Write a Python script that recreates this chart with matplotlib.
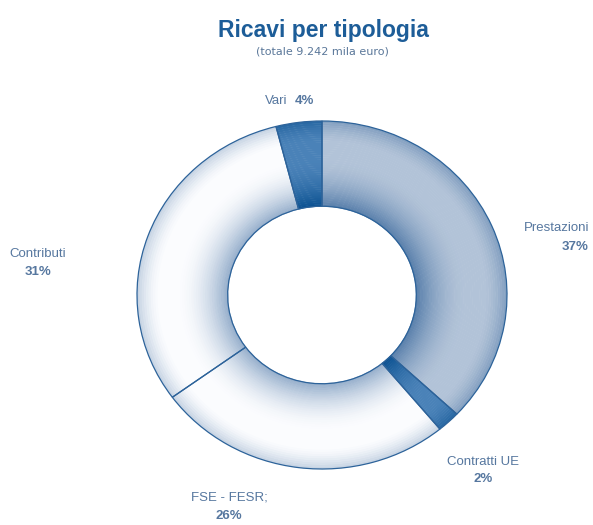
import matplotlib
matplotlib.use("Agg")
import matplotlib.pyplot as plt
import numpy as np
from matplotlib.colors import to_rgb

plt.rcParams['font.family'] = ['Liberation Sans', 'DejaVu Sans']

# Data
categories = ["Prestazioni", "Contratti UE", "FSE - FESR;", "Contributi", "Vari"]
values = [37, 2, 26, 31, 4]
pct_labels = ["37%", "2%", "26%", "31%", "4%"]
title = "Ricavi per tipologia"
subtitle = "(totale 9.242 mila euro)"

# Styling (light / dark shading colour per slice)
light_cols = ["#b2c3d8", "#4a82b8", "#fbfcfe", "#fbfcfe", "#4a82b8"]
dark_cols = ["#587fab", "#0b5191", "#95aecb", "#95aecb", "#0b5191"]
edge_col = "#2d639a"
label_col = "#56779f"

W, H = 593, 525
fig = plt.figure(figsize=(W / 100, H / 100), dpi=100)

cx, cy = 322, 295
rx, ry = 185, 174
ax = fig.add_axes([(cx - rx) / W, 1 - (cy + ry) / H, 2 * rx / W, 2 * ry / H])

inner = 0.51
N = 40
lc = [np.array(to_rgb(c)) for c in light_cols]
dc = [np.array(to_rgb(c)) for c in dark_cols]
for i in range(N):
    r_out = 1 - i * (1 - inner) / N
    t = (i + 0.5) / N  # 0 outer, 1 inner
    f = max((1 - t / 0.25), 0) ** 1.6 * 0.55 + max((t - 0.45) / 0.55, 0) ** 1.8
    f = min(f, 1.0)
    cols = [tuple(l + (d - l) * f) for l, d in zip(lc, dc)]
    ax.pie(values, colors=cols, startangle=90, counterclock=False, radius=r_out,
           wedgeprops=dict(width=(1 - inner) / N + 0.003, edgecolor='none', linewidth=0))

ax.pie(values, colors=['none'] * len(values), startangle=90, counterclock=False, radius=1,
       wedgeprops=dict(width=1 - inner, edgecolor=edge_col, linewidth=0.9, facecolor='none'))

ax.set_aspect('auto')
ax.set_xlim(-1, 1)
ax.set_ylim(-1, 1)
ax.axis('off')

# Titles
fig.text(323 / W, 1 - 31 / H, title, ha='center', va='center', fontsize=16.5,
         fontweight='bold', color='#1d5d98')
fig.text(322 / W, 1 - 52 / H, subtitle, ha='center', va='center', fontsize=8,
         color='#5a7799', family=['DejaVu Sans'])

fs = 9.5
def lab(x, y1, y2, name, pct, ha='center'):
    fig.text(x / W, 1 - y1 / H, name, ha=ha, va='center', fontsize=fs, color=label_col)
    fig.text(x / W, 1 - y2 / H, pct, ha=ha, va='center', fontsize=fs, color=label_col,
             fontweight='bold')

lab(589, 228, 247, categories[0], pct_labels[0], ha='right')
lab(483, 462, 479, categories[1], pct_labels[1])
lab(229, 498, 516, categories[2], pct_labels[2])
lab(38, 254, 272, categories[3], pct_labels[3])
fig.text(265 / W, 1 - 101 / H, categories[4], ha='left', va='center', fontsize=fs, color=label_col)
fig.text(295 / W, 1 - 101 / H, pct_labels[4], ha='left', va='center', fontsize=fs,
         color=label_col, fontweight='bold')

fig.savefig("out.png", dpi=100)
